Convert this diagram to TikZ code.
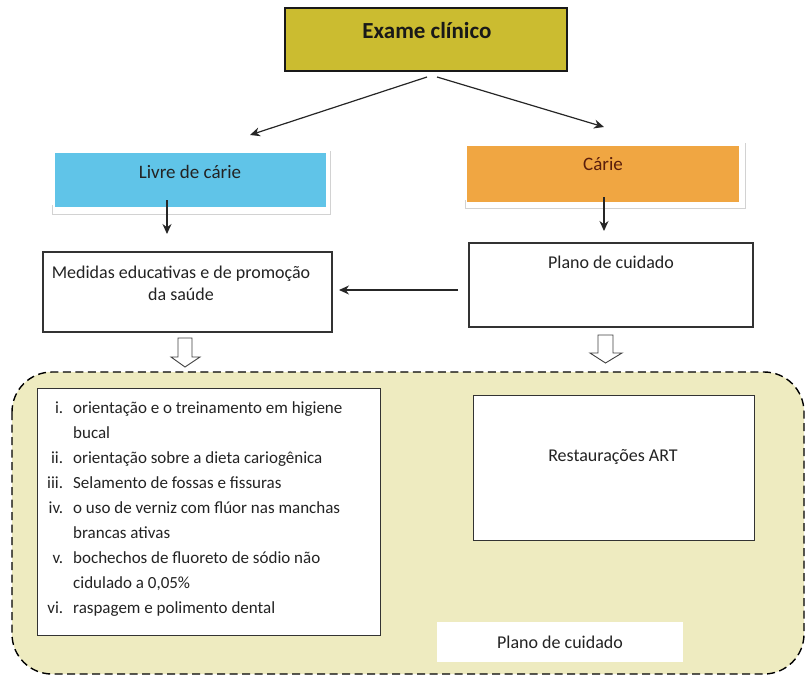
\documentclass[tikz,border=0pt]{standalone}
\usepackage{fontspec}
\setmainfont{Carlito}
\usetikzlibrary{arrows.meta}
\definecolor{exameY}{RGB}{203,188,48}
\definecolor{livreB}{RGB}{96,196,232}
\definecolor{carieO}{RGB}{240,166,66}
\definecolor{zoneY}{RGB}{238,235,192}
\definecolor{txt}{RGB}{35,35,35}
\definecolor{carieT}{RGB}{90,30,12}
\definecolor{shadowG}{RGB}{210,210,210}
\newcommand{\numcol}[1]{\makebox[23pt][r]{#1}}
\tikzset{
  boxw/.style={draw=black!80, line width=1.1pt, fill=white, inner sep=0pt},
  lbl/.style={inner sep=0pt, text=txt, font=\fontsize{18}{22}\selectfont, align=center},
  arr/.style={draw=black!85, line width=1.2pt, -{Stealth[length=10pt,width=9pt]}},
  hollow/.style={draw=black!75, line width=0.9pt, fill=white},
  shadowline/.style={draw=shadowG, line width=1pt},
}
\begin{document}
\begin{tikzpicture}[x=1pt,y=-1pt]
\useasboundingbox (0,0) rectangle (806,677);
% dashed zone
\draw[dashed, dash pattern=on 8pt off 4.5pt, line width=1.4pt, fill=zoneY, rounded corners=40pt] (12,372) rectangle (804,674);
% Exame
\node[draw=black!90, line width=2pt, fill=exameY, minimum width=282pt, minimum height=63pt, inner sep=0pt] (exame) at (426,40) {};
\node[lbl, font=\fontsize{23}{27}\selectfont\bfseries, text=black!90] (exameT) at (427,31) {Exame clínico};
% Livre
\node[fill=livreB, minimum width=271pt, minimum height=54pt, inner sep=0pt] (livre) at (190.5,180) {};
\draw[shadowline] (52,205) -- (52,214) -- (330,214) -- (330,151);
\node[lbl, font=\fontsize{19}{23}\selectfont] (livreT) at (190,172) {Livre de cárie};
% Carie
\node[fill=carieO, minimum width=272pt, minimum height=56pt, inner sep=0pt] (carie) at (603,174) {};
\draw[shadowline] (465,200) -- (465,208) -- (745,208) -- (745,143);
\node[lbl, font=\fontsize{19}{23}\selectfont, text=carieT] (carieT) at (603,164) {Cárie};
% Medidas
\node[boxw, minimum width=289pt, minimum height=80pt] (medidas) at (187.5,292) {};
\node[lbl] (medidasT) at (181,283) {Medidas educativas e de promoção\\da saúde};
% Plano
\node[boxw, minimum width=284pt, minimum height=84pt] (plano) at (611,285) {};
\node[lbl] (planoT) at (611,262) {Plano de cuidado};
% arrows
\coordinate (eL) at (427,77);
\coordinate (eR) at (437,77);
\coordinate (livreTop) at (250,135);
\coordinate (carieTop) at (604,127);
\draw[arr] (eL) -- (livreTop);
\draw[arr] (eR) -- (carieTop);
\coordinate (lv1) at (167,200);
\coordinate (lv2) at (167,234);
\draw[arr] (lv1) -- (lv2);
\coordinate (cr1) at (604,197);
\coordinate (cr2) at (604,231);
\draw[arr] (cr1) -- (cr2);
\coordinate (hz1) at (458,290);
\coordinate (hz2) at (339,290);
\draw[arr] (hz1) -- (hz2);
% hollow arrows
\draw[hollow] (178,338) -- (192,338) -- (192,357) -- (200,357) -- (185,367) -- (171,357) -- (178,357) -- cycle;
\draw[hollow] (598,335) -- (613,335) -- (613,353) -- (622,353) -- (605.5,363) -- (590,353) -- (598,353) -- cycle;
% list box
\node[boxw, line width=1pt, minimum width=343pt, minimum height=247pt] (list) at (208.5,511.5) {};
\node[anchor=north west, inner sep=0pt, text=txt] (listT) at (40,395.5) {\fontsize{17}{25}\selectfont
\begin{tabular}{@{}r@{\hspace{10pt}}l@{}}
\numcol{i.} & orientação e o treinamento em higiene\\
 & bucal\\
ii. & orientação sobre a dieta cariogênica\\
iii. & Selamento de fossas e fissuras\\
iv. & o uso de verniz com flúor nas manchas\\
 & brancas ativas\\
v. & bochechos de fluoreto de sódio não\\
 & cidulado a 0,05\%\\
vi. & raspagem e polimento dental
\end{tabular}};
% Restauracoes
\node[boxw, line width=1pt, minimum width=281pt, minimum height=145pt] (rest) at (613.5,467.5) {};
\node[lbl] (restT) at (613,457) {Restaurações ART};
% plano bottom
\node[fill=white, minimum width=246pt, minimum height=40pt, inner sep=0pt] (plano2) at (560,642) {};
\node[lbl] (plano2T) at (560,642) {Plano de cuidado};
\end{tikzpicture}
\end{document}
